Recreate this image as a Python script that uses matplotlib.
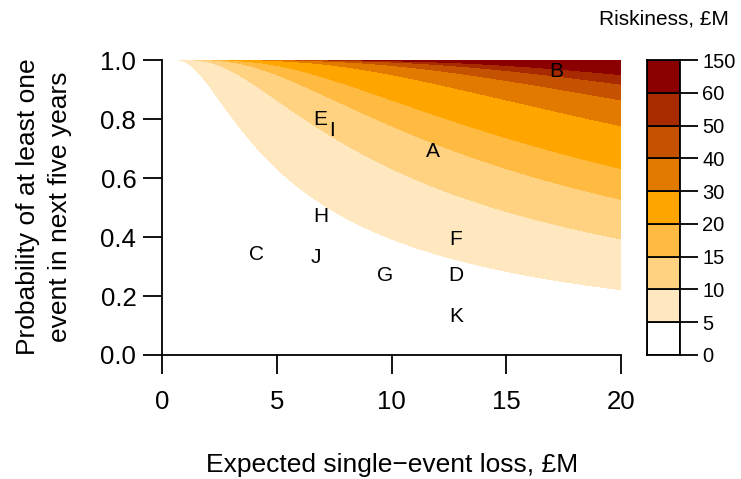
"""
Riskiness of events: expected single-event loss vs probability of at least
one event in the next five years, with riskiness contours.
"""
import numpy as np
import matplotlib
matplotlib.use("Agg")
import matplotlib.pyplot as plt

plt.rcParams["font.family"] = ["Liberation Sans", "DejaVu Sans"]

# contour levels and fill colours (riskiness, £M)
levels = [0, 5, 10, 15, 20, 30, 40, 50, 60, 150]
level_colors = ["#FFFFFF", "#FFE7BF", "#FFD281", "#FFBA42", "#FFA500",
                "#E27A00", "#C45200", "#A82A00", "#8B0000"]

# labelled events
event_names = ["A", "B", "C", "D", "E", "F", "G", "H", "I", "J", "K"]
event_loss = [11.8, 17.2, 4.1, 12.8, 6.9, 12.8, 9.7, 6.9, 7.4, 6.7, 12.8]
event_prob = [0.69, 0.96, 0.34, 0.27, 0.80, 0.39, 0.27, 0.47, 0.76, 0.33, 0.13]

# grid of loss and probability
loss_grid = np.linspace(0, 20, 201)
prob_grid = np.linspace(0, 0.999, 400)
L, P = np.meshgrid(loss_grid, prob_grid)
# riskiness = single-event loss x expected number of events in five years
risk = L * -np.log(1 - P)

fig = plt.figure(figsize=(7.41, 4.79), dpi=100)
W, H = 741, 479
ax = fig.add_axes([162 / W, (H - 355) / H, 459 / W, 295 / H])
ax.contourf(L, P, risk, levels=levels, colors=level_colors)
for name, x, y in zip(event_names, event_loss, event_prob):
    ax.text(x, y, name, fontsize=15, ha="center", va="center")

ax.set_xlim(0, 20)
ax.set_ylim(0, 1)
for s in ["top", "right"]:
    ax.spines[s].set_visible(False)
for s in ["left", "bottom"]:
    ax.spines[s].set_linewidth(1.3)
ax.set_xticks([0, 5, 10, 15, 20])
ax.set_yticks([0, 0.2, 0.4, 0.6, 0.8, 1.0])
ax.set_yticklabels(["0.0", "0.2", "0.4", "0.6", "0.8", "1.0"])
ax.tick_params(length=13.5, width=1.3, labelsize=18.5, pad=5)
ax.tick_params(axis="x", pad=12)
fig.text(392 / W, 1 - 465 / H, "Expected single\u2212event loss, £M",
         ha="center", va="center", fontsize=19)
fig.text(44 / W, 1 - 207 / H, "Probability of at least one\nevent in next five years",
         rotation=90, ha="center", va="center", fontsize=19, linespacing=1.4)

# colour key
cax = fig.add_axes([647 / W, (H - 355) / H, 33 / W, 295 / H])
for i, c in enumerate(level_colors):
    cax.bar(0.5, 1, bottom=i, width=1, color=c, edgecolor="black", linewidth=1.3)
cax.set_xlim(0, 1)
cax.set_ylim(0, len(level_colors))
cax.set_xticks([])
cax.set_yticks(range(len(levels)))
cax.set_yticklabels([str(v) for v in levels])
cax.yaxis.tick_right()
cax.tick_params(length=13, width=1.3, labelsize=14.5, pad=3)
for s in cax.spines.values():
    s.set_linewidth(1.3)
fig.text(664 / W, 1 - 19 / H, "Riskiness, £M", ha="center", va="center", fontsize=15)

fig.savefig("out.png", dpi=100)
